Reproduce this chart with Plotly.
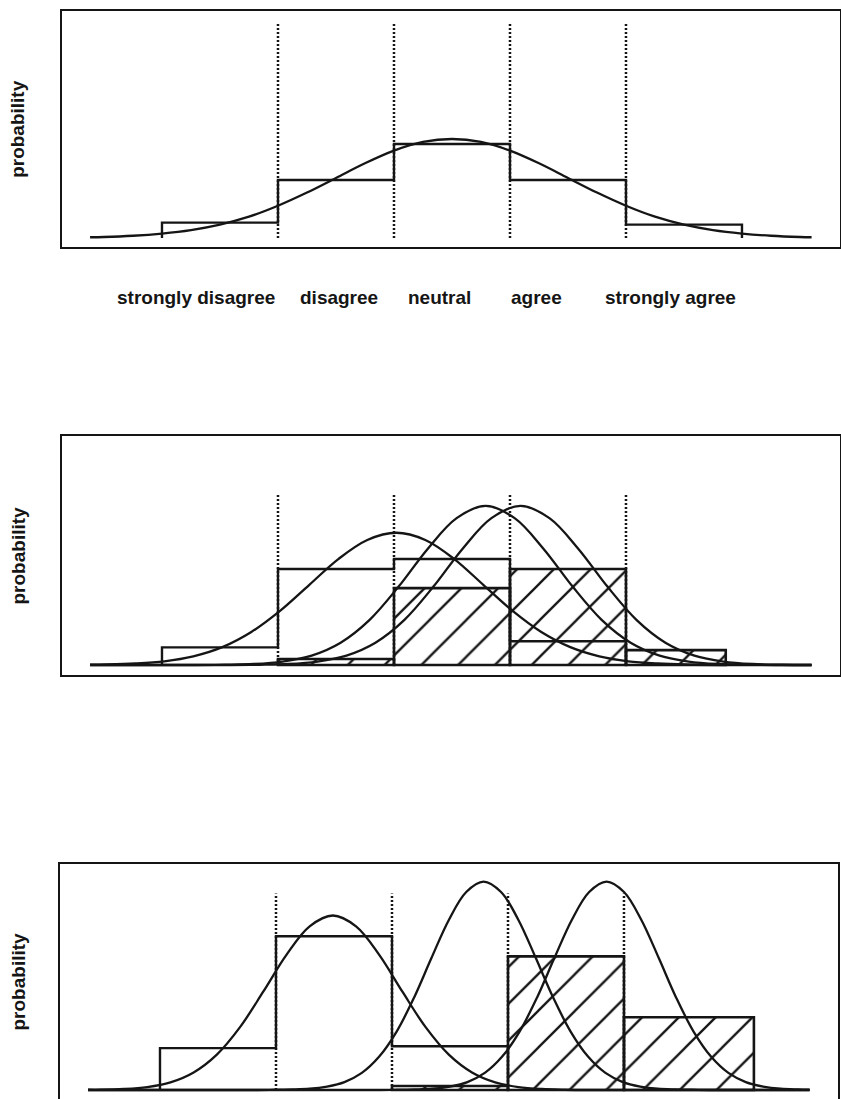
import plotly.graph_objects as go

# ---------------- data ----------------
categories = ["strongly disagree", "disagree", "neutral", "agree", "strongly agree"]
bin_edges = [0.5, 1.5, 2.5, 3.5, 4.5, 5.5]
boundaries = [1.5, 2.5, 3.5, 4.5]

# panel 1 : one distribution
p1_open = [0.062, 0.234, 0.379, 0.234, 0.054]
p1_curve_x = [-0.12, 0.0, 0.25, 0.5, 0.75, 1.0, 1.25, 1.5, 1.75, 2.0, 2.25, 2.5, 2.75, 3.0,
              3.25, 3.5, 3.75, 4.0, 4.25, 4.5, 4.75, 5.0, 5.25, 5.5, 5.75, 6.0, 6.1]
p1_curve_y = [0.003, 0.004, 0.009, 0.018, 0.032, 0.054, 0.086, 0.130, 0.183, 0.242, 0.301, 0.352, 0.387, 0.399,
              0.387, 0.352, 0.301, 0.242, 0.183, 0.130, 0.086, 0.054, 0.032, 0.018, 0.009, 0.004, 0.003]
p1_dotted_top = 0.868

# panel 2 : three distributions
p2_open = [0.071, 0.387, 0.427, 0.096]
p2_hatch_left = [1.5, 2.5, 3.5, 4.5]
p2_hatch_right = [2.5, 3.5, 4.5, 5.36]
p2_hatch = [0.024, 0.310, 0.387, 0.060]
p2_a_x = [-0.12, 0.02, 0.27, 0.52, 0.77, 1.02, 1.27, 1.52, 1.77, 2.02, 2.27, 2.52, 2.77, 3.02,
          3.27, 3.52, 3.77, 4.02, 4.27, 4.52, 4.77, 5.02, 5.52, 6.1]
p2_a_y = [0.001, 0.002, 0.006, 0.015, 0.035, 0.072, 0.133, 0.219, 0.323, 0.427, 0.504, 0.533, 0.504, 0.427,
          0.323, 0.219, 0.133, 0.072, 0.035, 0.015, 0.006, 0.002, 0.0, 0.0]
p2_b_x = [-0.12, 0.79, 1.04, 1.29, 1.54, 1.79, 2.04, 2.29, 2.54, 2.79, 3.04, 3.29, 3.54, 3.79,
          4.04, 4.29, 4.54, 4.79, 5.04, 5.29, 5.54, 5.79, 6.1]
p2_b_y = [0.0, 0.0, 0.001, 0.004, 0.014, 0.038, 0.090, 0.182, 0.316, 0.468, 0.592, 0.641, 0.592, 0.468,
          0.316, 0.182, 0.090, 0.038, 0.014, 0.004, 0.001, 0.0, 0.0]
p2_c_x = [-0.12, 1.09, 1.34, 1.59, 1.84, 2.09, 2.34, 2.59, 2.84, 3.09, 3.34, 3.59, 3.84, 4.09,
          4.34, 4.59, 4.84, 5.09, 5.34, 5.59, 5.84, 6.1]
p2_c_y = [0.0, 0.0, 0.001, 0.004, 0.014, 0.038, 0.090, 0.182, 0.316, 0.468, 0.592, 0.641, 0.592, 0.468,
          0.316, 0.182, 0.090, 0.038, 0.014, 0.004, 0.001, 0.0]
p2_dotted_top = 0.693

# panel 3 : three narrower distributions
p3_open = [0.169, 0.621, 0.177]
p3_hatch_left = [2.5, 3.5, 4.5]
p3_hatch_right = [3.5, 4.5, 5.62]
p3_hatch = [0.016, 0.540, 0.294]
p3_a_x = [-0.12, -0.01, 0.19, 0.39, 0.59, 0.79, 0.99, 1.19, 1.39, 1.59, 1.79, 1.99, 2.19, 2.39,
          2.59, 2.79, 2.99, 3.19, 3.39, 3.59, 3.79, 3.99, 4.19, 6.1]
p3_a_y = [0.001, 0.001, 0.004, 0.012, 0.031, 0.071, 0.143, 0.254, 0.397, 0.546, 0.661, 0.705, 0.661, 0.546,
          0.397, 0.254, 0.143, 0.071, 0.031, 0.012, 0.004, 0.001, 0.0, 0.0]
p3_b_x = [-0.12, 1.34, 1.49, 1.64, 1.79, 1.94, 2.09, 2.24, 2.39, 2.54, 2.69, 2.84, 2.99, 3.14, 3.29,
          3.44, 3.59, 3.74, 3.89, 4.04, 4.19, 4.34, 4.49, 4.64, 4.79, 4.94, 5.09, 5.24, 6.1]
p3_b_y = [0.0, 0.0, 0.001, 0.002, 0.005, 0.014, 0.032, 0.069, 0.135, 0.236, 0.373, 0.533, 0.687, 0.800, 0.842,
          0.800, 0.687, 0.533, 0.373, 0.236, 0.135, 0.069, 0.032, 0.014, 0.005, 0.002, 0.001, 0.0, 0.0]
p3_c_x = [-0.12, 2.40, 2.55, 2.70, 2.85, 3.00, 3.15, 3.30, 3.45, 3.60, 3.75, 3.90, 4.05, 4.20, 4.35,
          4.50, 4.65, 4.80, 4.95, 5.10, 5.25, 5.40, 5.55, 5.70, 5.85, 6.00, 6.1]
p3_c_y = [0.0, 0.0, 0.001, 0.002, 0.005, 0.014, 0.032, 0.069, 0.135, 0.236, 0.373, 0.533, 0.687, 0.800, 0.842,
          0.800, 0.687, 0.533, 0.373, 0.236, 0.135, 0.069, 0.032, 0.014, 0.005, 0.002, 0.001]
p3_dotted_top = 0.794

# ---------------- style ----------------
INK = "#151515"
W, H = 841, 1099
X_RANGE = [-0.362, 6.345]
label_x = [0.79, 2.03, 2.89, 3.73, 4.88]   # label placement under panel 1
FONT = "Liberation Sans, Arial, Helvetica, sans-serif"

fig = go.Figure()


def step_xy(heights):
    xs = [bin_edges[0]] + bin_edges[:len(heights) + 1]
    ys = [0] + list(heights) + [0]
    return xs, ys


def add_panel(n, open_h, curves, dotted_top, hatch=None):
    xa = "x" if n == 1 else f"x{n}"
    ya = "y" if n == 1 else f"y{n}"
    # hatched histogram
    if hatch is not None:
        left, right, h = hatch
        centers = [(l + r) / 2 for l, r in zip(left, right)]
        widths = [r - l for l, r in zip(left, right)]
        fig.add_trace(go.Bar(
            x=centers, y=h, width=widths, xaxis=xa, yaxis=ya,
            marker=dict(color="rgba(0,0,0,0)",
                        line=dict(color=INK, width=2.6),
                        pattern=dict(shape="/", fgcolor=INK, bgcolor="rgba(0,0,0,0)",
                                     fgopacity=1, size=26, solidity=0.09)),
            showlegend=False, hoverinfo="skip"))
    # dotted category boundaries
    dx, dy = [], []
    for b in boundaries:
        dx += [b, b, None]
        dy += [0, dotted_top, None]
    fig.add_trace(go.Scatter(x=dx, y=dy, mode="lines", xaxis=xa, yaxis=ya,
                             line=dict(color=INK, width=2.5, dash="2px,2px"),
                             showlegend=False, hoverinfo="skip"))
    # open histogram (step outline)
    sx, sy = step_xy(open_h)
    fig.add_trace(go.Scatter(x=sx, y=sy, mode="lines", line_shape="hv", xaxis=xa, yaxis=ya,
                             line=dict(color=INK, width=2.4),
                             showlegend=False, hoverinfo="skip"))
    # density curves
    for cx, cy in curves:
        fig.add_trace(go.Scatter(x=cx, y=cy, mode="lines", line_shape="spline", xaxis=xa, yaxis=ya,
                                 line=dict(color=INK, width=2.3),
                                 showlegend=False, hoverinfo="skip"))


add_panel(1, p1_open, [(p1_curve_x, p1_curve_y)], p1_dotted_top)
add_panel(2, p2_open, [(p2_a_x, p2_a_y), (p2_b_x, p2_b_y), (p2_c_x, p2_c_y)], p2_dotted_top,
          (p2_hatch_left, p2_hatch_right, p2_hatch))
add_panel(3, p3_open, [(p3_a_x, p3_a_y), (p3_b_x, p3_b_y), (p3_c_x, p3_c_y)], p3_dotted_top,
          (p3_hatch_left, p3_hatch_right, p3_hatch))


def px_dom(top, bottom):
    return [(H - bottom) / H, (H - top) / H]


ax_common = dict(showticklabels=False, ticks="", showgrid=False, zeroline=False, fixedrange=True)
line_common = dict(showline=True, linecolor=INK, linewidth=2.2)

fig.update_layout(
    width=W, height=H, margin=dict(l=0, r=0, t=0, b=0),
    paper_bgcolor="white", plot_bgcolor="white", barmode="overlay", showlegend=False,
    xaxis=dict(domain=[62 / W, 840 / W], range=X_RANGE, anchor="y", mirror=True, **line_common, **ax_common),
    yaxis=dict(domain=px_dom(10.7, 247), range=[-0.0363, 0.916], anchor="x", mirror=True, **line_common, **ax_common),
    xaxis2=dict(domain=[62 / W, 840 / W], range=X_RANGE, anchor="y2", mirror=True, **line_common, **ax_common),
    yaxis2=dict(domain=px_dom(436, 675), range=[-0.0403, 0.923], anchor="x2", mirror=True, **line_common, **ax_common),
    xaxis3=dict(domain=[60 / W, 838 / W], range=X_RANGE, anchor="y3", side="top", mirror=False, **line_common, **ax_common),
    yaxis3=dict(domain=[0, (H - 864) / H], range=[-0.03636, 0.913], anchor="x3", mirror=True, **line_common, **ax_common),
)

annotations = []
for dom_top, dom_bot in [(10.7, 247), (436, 675), (864, 1099)]:
    annotations.append(dict(text="probability", xref="paper", yref="paper",
                            x=18 / W, y=(H - (dom_top + dom_bot) / 2) / H,
                            xanchor="center", yanchor="middle", textangle=-90, showarrow=False,
                            font=dict(family=FONT, size=19, color=INK, weight="bold")))
for lx, cat in zip(label_x, categories):
    annotations.append(dict(text=cat, xref="x", yref="paper", x=lx, y=(H - 298) / H,
                            xanchor="center", yanchor="middle", showarrow=False,
                            font=dict(family=FONT, size=19, color=INK, weight="bold")))
fig.update_layout(annotations=annotations)

fig.write_html(
    "out.html",
    config={"displayModeBar": False, "staticPlot": True},
    post_script="document.body.style.margin='0';document.body.style.overflow='hidden';"
                "document.documentElement.style.overflow='hidden';",
)
